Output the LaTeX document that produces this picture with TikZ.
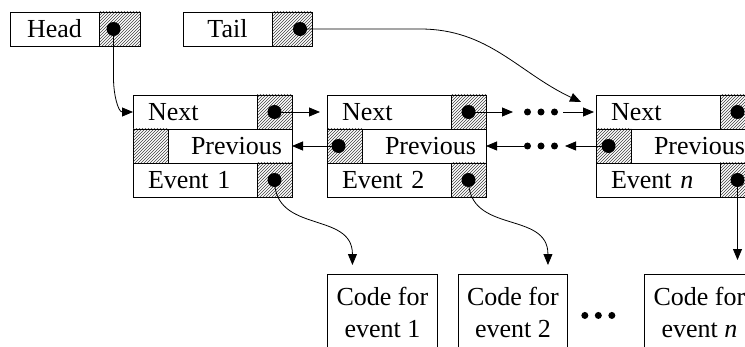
\documentclass[tikz,border=0pt]{standalone}
\usepackage{fontspec}
\setmainfont{Liberation Serif}
\usetikzlibrary{patterns,arrows.meta,calc}

\tikzset{
  cell/.style={draw, line width=0.9pt, minimum height=34pt, inner sep=0pt, outer sep=0pt},
  field/.style={cell, text width=94pt, inner xsep=15pt, align=left},
  backfield/.style={cell, text width=104pt, inner xsep=10pt, align=right},
  hatch/.style={cell, minimum width=35pt, pattern=north east lines, pattern color=black!75},
  ptr/.style={circle, fill=black, inner sep=0pt, minimum size=14pt},
  code/.style={draw, line width=0.9pt, minimum width=110pt, minimum height=76pt,
    inner sep=0pt, align=center, anchor=north west},
  link/.style={line width=0.8pt, -{Triangle[length=11pt,width=9pt]}}
}

\begin{document}
\begin{tikzpicture}[x=1pt,y=1pt,font=\fontsize{26pt}{32pt}\selectfont]
  \useasboundingbox (0,0) rectangle (745,346);
  \clip (0,0) rectangle (745,346);
  % head and tail
  \node[cell, minimum width=89pt, anchor=north west] (head) at (10,334) {Head};
  \node[hatch, minimum width=41pt, anchor=west] (headp) at (head.east) {};
  \node[ptr] (hd) at ([xshift=-6pt]headp.center) {};
  \node[cell, minimum width=89pt, anchor=north west] (tail) at (183,334) {Tail};
  \node[hatch, minimum width=40pt, anchor=west] (tailp) at (tail.east) {};
  \node[ptr] (td) at ([xshift=8pt]tailp.center) {};
  % the three records
  \foreach \x/\r/\lab in {133/a/{Event 1}, 327/b/{Event 2}, 596/c/{Event \textit{n}}} {
    \node[field, anchor=north west] (\r-next) at (\x,251) {Next};
    \node[hatch, anchor=west] (\r-nextp) at (\r-next.east) {};
    \node[hatch, anchor=north west] (\r-prevp) at (\r-next.south west) {};
    \node[backfield, anchor=west] (\r-prev) at (\r-prevp.east) {Previous};
    \node[field, anchor=north west] (\r-ev) at (\r-prevp.south west) {\lab};
    \node[hatch, anchor=west] (\r-evp) at (\r-ev.east) {};
    \node[ptr] (\r-nd) at (\r-nextp.center) {};
    \node[ptr] (\r-ed) at (\r-evp.center) {};
  }
  \node[ptr] (b-pd) at ([xshift=-6pt]b-prevp.center) {};
  \node[ptr] (c-pd) at ([xshift=-5pt]c-prevp.center) {};
  % code boxes
  \node[code] (code1) at (327,72) {Code for\\event 1};
  \node[code, minimum width=109pt] (code2) at (458,72) {Code for\\event 2};
  \node[code] (code3) at (644,72) {Code for\\event \textit{n}};
  % connectors
  \coordinate (tin) at ([xshift=-15pt,yshift=-7pt]c-next.north west);
  \draw[link] (hd.center) -- ++(0,-50) to[out=-90,in=180] (a-next.west);
  \draw[link] (td.center) -- ++(120,0) to[out=0,in=155] (tin);
  \draw[link, shorten >=7pt] (a-nd.center) -- (b-next.west);
  \draw[link] (b-pd.center) -- (a-prev.east);
  \coordinate (gn) at ($(b-nextp.east)!0.5!(c-next.west)$);
  \coordinate (gp) at ($(b-prev.east)!0.5!(c-prevp.west)$);
  \draw[link] (b-nd.center) -- ([xshift=-28pt]gn);
  \draw[link, shorten >=2pt] ([xshift=22pt]gn) -- (c-next.west);
  \draw[link] (c-pd.center) -- ([xshift=24pt]gp);
  \draw[link] ([xshift=-17pt]gp) -- (b-prev.east);
  \foreach \d in {-13.5,0,13.5} {
    \fill ([xshift=\d pt]gn) circle (3.5pt);
    \fill ([xshift=\d pt]gp) circle (3.5pt);
  }
  \coordinate (c1in) at ([xshift=-30pt,yshift=9pt]code1.north);
  \coordinate (c2in) at ([xshift=35pt,yshift=9pt]code2.north);
  \coordinate (c3in) at ([yshift=14pt]code3.north -| c-ed.center);
  \draw[link] (a-ed.center) to[out=-90,in=90,looseness=1.2] (c1in);
  \draw[link] (b-ed.center) to[out=-90,in=90,looseness=1.2] (c2in);
  \draw[link] (c-ed.center) -- (c3in);
  \coordinate (gc) at ($(code2.east)!0.4!(code3.west)$);
  \foreach \d in {-13.5,0,13.5}
    \fill ([xshift=\d pt,yshift=-3pt]gc) circle (3.5pt);
\end{tikzpicture}
\end{document}
